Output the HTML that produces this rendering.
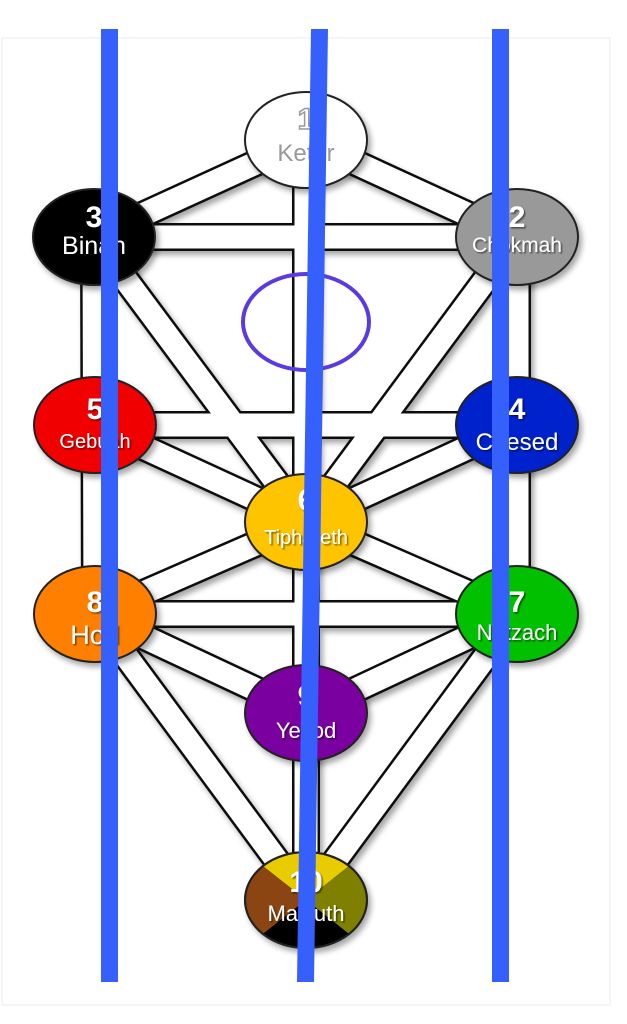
<!DOCTYPE html>
<html><head><meta charset="utf-8"><style>
html,body{margin:0;padding:0;background:#fff;}
svg{display:block;}
text{font-family:"Liberation Sans",sans-serif;text-anchor:middle;}
</style></head><body>
<svg width="627" height="1024" viewBox="0 0 627 1024" xmlns="http://www.w3.org/2000/svg">
<defs>
<filter id="sh" x="-30%" y="-30%" width="160%" height="160%"><feDropShadow dx="3" dy="4" stdDeviation="3" flood-color="#000" flood-opacity="0.35"/></filter>
<filter id="ts" x="-20%" y="-20%" width="140%" height="140%"><feDropShadow dx="1.5" dy="1.5" stdDeviation="0.8" flood-color="#000" flood-opacity="0.5"/></filter>
<clipPath id="mc"><ellipse cx="306" cy="900" rx="60" ry="47"/></clipPath>
</defs>
<rect x="0" y="0" width="627" height="1024" fill="#fff"/>
<rect x="2" y="38" width="608" height="967" fill="none" stroke="#f2f2f2" stroke-width="1.5"/>
<g id="paths" stroke-linecap="butt">
<g stroke="#111" stroke-width="28" filter="url(#sh)">
<line x1="306" y1="140" x2="94" y2="237"/><line x1="306" y1="140" x2="517" y2="237"/>
<line x1="94" y1="237" x2="517" y2="237"/><line x1="306" y1="140" x2="306" y2="900"/>
<line x1="94" y1="237" x2="95" y2="614"/><line x1="517" y1="237" x2="517" y2="614"/>
<line x1="94" y1="237" x2="306" y2="522"/><line x1="517" y1="237" x2="306" y2="522"/>
<line x1="95" y1="425" x2="517" y2="425"/><line x1="95" y1="425" x2="306" y2="522"/>
<line x1="517" y1="425" x2="306" y2="522"/><line x1="306" y1="522" x2="95" y2="614"/>
<line x1="306" y1="522" x2="517" y2="614"/><line x1="95" y1="614" x2="517" y2="614"/>
<line x1="95" y1="614" x2="306" y2="713"/><line x1="517" y1="614" x2="306" y2="713"/>
<line x1="95" y1="614" x2="306" y2="900"/><line x1="517" y1="614" x2="306" y2="900"/>
</g>
<g stroke="#fff" stroke-width="23">
<line x1="306" y1="140" x2="94" y2="237"/><line x1="306" y1="140" x2="517" y2="237"/>
<line x1="94" y1="237" x2="517" y2="237"/><line x1="306" y1="140" x2="306" y2="900"/>
<line x1="94" y1="237" x2="95" y2="614"/><line x1="517" y1="237" x2="517" y2="614"/>
<line x1="94" y1="237" x2="306" y2="522"/><line x1="517" y1="237" x2="306" y2="522"/>
<line x1="95" y1="425" x2="517" y2="425"/><line x1="95" y1="425" x2="306" y2="522"/>
<line x1="517" y1="425" x2="306" y2="522"/><line x1="306" y1="522" x2="95" y2="614"/>
<line x1="306" y1="522" x2="517" y2="614"/><line x1="95" y1="614" x2="517" y2="614"/>
<line x1="95" y1="614" x2="306" y2="713"/><line x1="517" y1="614" x2="306" y2="713"/>
<line x1="95" y1="614" x2="306" y2="900"/><line x1="517" y1="614" x2="306" y2="900"/>
</g>
</g>
<ellipse cx="306" cy="322" rx="63" ry="48" fill="none" stroke="#5a3be0" stroke-width="4"/>
<g stroke="#222" stroke-width="2" filter="url(#sh)">
<ellipse cx="306" cy="140" rx="61" ry="48" fill="#fff"/>
<ellipse cx="94" cy="237" rx="61" ry="48" fill="#000"/>
<ellipse cx="517" cy="237" rx="61" ry="48" fill="#999"/>
<ellipse cx="95" cy="425" rx="61" ry="48" fill="#f00000"/>
<ellipse cx="517" cy="425" rx="61" ry="48" fill="#0022cc"/>
<ellipse cx="306" cy="522" rx="61" ry="48" fill="#ffc400"/>
<ellipse cx="95" cy="614" rx="61" ry="48" fill="#ff8000"/>
<ellipse cx="517" cy="614" rx="61" ry="48" fill="#00c000"/>
<ellipse cx="306" cy="713" rx="61" ry="48" fill="#7a00a0"/>
<ellipse cx="306" cy="900" rx="61" ry="48" fill="#000"/>
</g>
<g clip-path="url(#mc)">
<polygon points="306,900 230,840 382,840" fill="#e8cc00"/>
<polygon points="306,900 230,840 230,960" fill="#8b4513"/>
<polygon points="306,900 382,840 382,960" fill="#808000"/>
<polygon points="306,900 230,960 382,960" fill="#000"/>
</g>
<ellipse cx="306" cy="900" rx="61" ry="48" fill="none" stroke="#222" stroke-width="2"/>
<text x="306" y="129" font-size="30" font-weight="bold" fill="#fff" stroke="#999" stroke-width="1.5">1</text>
<text x="306" y="161" font-size="24" fill="#999">Keter</text>
<g fill="#fff" filter="url(#ts)">
<text x="94" y="227" font-size="30" font-weight="bold">3</text>
<text x="94" y="254" font-size="25">Binah</text>
<text x="517" y="227" font-size="30" font-weight="bold">2</text>
<text x="517" y="252" font-size="21">Chokmah</text>
<text x="95" y="419" font-size="30" font-weight="bold">5</text>
<text x="95" y="448" font-size="20">Gebuah</text>
<text x="517" y="419" font-size="30" font-weight="bold">4</text>
<text x="517" y="450" font-size="24">Chesed</text>
<text x="306" y="510" font-size="30" font-weight="bold">6</text>
<text x="306" y="544" font-size="20">Tiphareth</text>
<text x="95" y="612" font-size="30" font-weight="bold">8</text>
<text x="95" y="644" font-size="27">Hod</text>
<text x="517" y="612" font-size="30" font-weight="bold">7</text>
<text x="517" y="640" font-size="22">Netzach</text>
<text x="306" y="706" font-size="30" font-weight="bold">9</text>
<text x="306" y="738" font-size="22">Yesod</text>
<text x="306" y="892" font-size="30" font-weight="bold">10</text>
<text x="306" y="921" font-size="22">Malkuth</text>
</g>
<g fill="#3560fb">
<rect x="101" y="29" width="17" height="953"/>
<rect x="492" y="29" width="17" height="953"/>
<polygon points="311,29 328,29 314,982 297,982"/>
</g>
</svg>
</body></html>
